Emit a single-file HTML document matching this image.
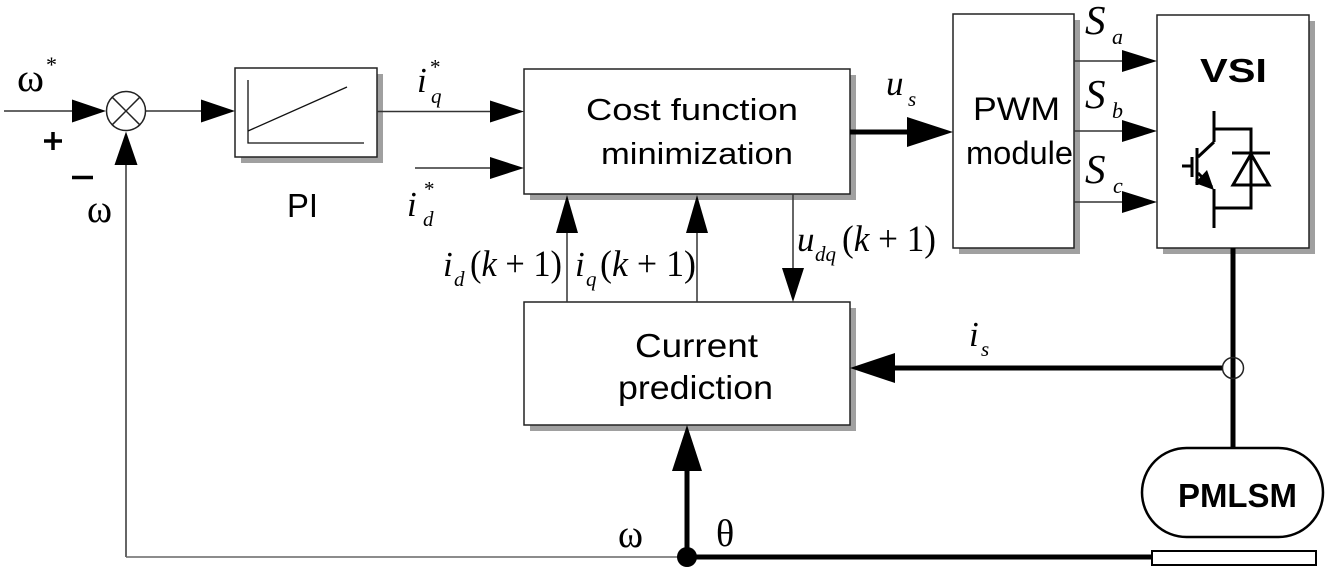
<!DOCTYPE html>
<html><head><meta charset="utf-8"><style>
html,body{margin:0;padding:0;background:#fff;}
svg{display:block;}
.sans{font-family:"Liberation Sans",Arial,sans-serif;fill:#000;}
.ser{font-family:"Liberation Serif","Times New Roman",serif;fill:#000;}
.it{font-style:italic;}
</style></head><body>
<svg width="1329" height="573" viewBox="0 0 1329 573" xmlns="http://www.w3.org/2000/svg">
<rect width="1329" height="573" fill="#fff"/>

<!-- shadows -->
<g fill="#a0a0a0">
<rect x="241" y="74" width="142" height="89"/>
<rect x="530" y="75" width="326" height="125"/>
<rect x="530" y="308" width="326" height="123"/>
<rect x="959" y="20" width="121" height="234"/>
<rect x="1163" y="21" width="152" height="233"/>
</g>
<!-- boxes -->
<g fill="#fff" stroke="#222" stroke-width="1.5">
<rect x="235" y="68" width="142" height="89"/>
<rect x="524" y="69" width="326" height="125"/>
<rect x="524" y="302" width="326" height="123"/>
<rect x="953" y="14" width="121" height="234"/>
<rect x="1157" y="15" width="152" height="233"/>
</g>

<!-- PI graph -->
<g stroke="#111" stroke-width="1.3" fill="none">
<polyline points="248,80 248,143 364,143"/>
<line x1="248" y1="131" x2="347" y2="87"/>
</g>

<!-- thin lines -->
<g stroke="#333" stroke-width="1.5" fill="none">
<line x1="4" y1="111" x2="74" y2="111"/>
<line x1="145.5" y1="111" x2="203" y2="111"/>
<line x1="377" y1="111.5" x2="492" y2="111.5"/>
<line x1="415" y1="168" x2="492" y2="168"/>
<line x1="126" y1="557" x2="126" y2="163"/>
<line x1="1074" y1="61" x2="1124" y2="61"/>
<line x1="1074" y1="131" x2="1124" y2="131"/>
<line x1="1074" y1="202" x2="1124" y2="202"/>
<line x1="567" y1="302" x2="567" y2="231"/>
<line x1="697" y1="302" x2="697" y2="231"/>
<line x1="793" y1="194" x2="793" y2="270"/>
</g>
<line x1="126" y1="557" x2="687" y2="557" stroke="#666" stroke-width="1.6"/>

<!-- summing junction -->
<g stroke="#222" stroke-width="1.5" fill="#fff">
<circle cx="126" cy="111" r="19.5"/>
<line x1="112.2" y1="97.2" x2="139.8" y2="124.8"/>
<line x1="139.8" y1="97.2" x2="112.2" y2="124.8"/>
</g>

<!-- thin arrowheads -->
<g fill="#000">
<polygon points="106,111 72,99.5 72,122.5"/>
<polygon points="235,111 201,99.5 201,122.5"/>
<polygon points="524,111.5 490,100.5 490,122.5"/>
<polygon points="524,168 490,157 490,179"/>
<polygon points="126,131.5 114.5,165 137.5,165"/>
<polygon points="1157,61 1122,50 1122,72"/>
<polygon points="1157,131 1122,120 1122,142"/>
<polygon points="1157,202 1122,191 1122,213"/>
<polygon points="567,195 556,233 578,233"/>
<polygon points="697,195 686,233 708,233"/>
<polygon points="793,302 782,268 804,268"/>
</g>

<!-- thick lines -->
<g stroke="#000" stroke-width="5" fill="none">
<line x1="850" y1="132" x2="910" y2="132"/>
<line x1="1233" y1="248" x2="1233" y2="448"/>
<line x1="1222.5" y1="368" x2="892" y2="368"/>
<line x1="687" y1="557" x2="1152" y2="557"/>
<line x1="687" y1="557" x2="687" y2="468"/>
</g>
<g fill="#000">
<polygon points="953,132 907,117 907,147"/>
<polygon points="850,368 895,353 895,383"/>
<polygon points="687,425 672,471 702,471"/>
<circle cx="687" cy="557" r="10"/>
</g>
<circle cx="1233" cy="368" r="10.5" fill="none" stroke="#222" stroke-width="1.5"/>

<!-- PMLSM and rail -->
<rect x="1142" y="448" width="181" height="89" rx="44.5" ry="44.5" fill="#fff" stroke="#000" stroke-width="2.5"/>
<rect x="1152" y="551" width="164" height="14" fill="#fff" stroke="#000" stroke-width="2"/>

<!-- IGBT + diode -->
<g stroke="#000" stroke-width="3" fill="none">
<line x1="1214" y1="111" x2="1214" y2="142"/>
<polyline points="1214,129 1251,129 1251,208 1214,208"/>
<line x1="1214" y1="189" x2="1214" y2="228"/>
<line x1="1214" y1="142" x2="1198" y2="157"/>
<line x1="1198" y1="173" x2="1212" y2="187"/>
<line x1="1197" y1="148" x2="1197" y2="185"/>
<line x1="1192" y1="157" x2="1192" y2="177"/>
<line x1="1182" y1="166" x2="1192" y2="166"/>
<line x1="1232" y1="153" x2="1270" y2="153"/>
<polygon points="1251,154 1233,185 1269,185"/>
</g>
<polygon points="1214,190 1195,183 1207,170" fill="#000"/>

<!-- plus / minus -->
<g stroke="#000" stroke-width="3.5">
<line x1="44" y1="141" x2="62" y2="141"/>
<line x1="53" y1="132" x2="53" y2="150"/>
<line x1="72" y1="177.5" x2="93" y2="177.5"/>
</g>

<!-- block texts -->
<text class="sans" x="586" y="120" font-size="31" textLength="212" lengthAdjust="spacingAndGlyphs">Cost function</text>
<text class="sans" x="601" y="164" font-size="31" textLength="192" lengthAdjust="spacingAndGlyphs">minimization</text>
<text class="sans" x="635" y="357" font-size="33" textLength="123" lengthAdjust="spacingAndGlyphs">Current</text>
<text class="sans" x="618" y="399" font-size="33" textLength="155" lengthAdjust="spacingAndGlyphs">prediction</text>
<text class="sans" x="973" y="120" font-size="32" textLength="87" lengthAdjust="spacingAndGlyphs">PWM</text>
<text class="sans" x="966" y="164" font-size="32" textLength="107" lengthAdjust="spacingAndGlyphs">module</text>
<text class="sans" x="1200" y="82" font-size="33" font-weight="bold" textLength="67" lengthAdjust="spacingAndGlyphs">VSI</text>
<text class="sans" x="287" y="217" font-size="33" textLength="31" lengthAdjust="spacingAndGlyphs">PI</text>
<text class="sans" x="1178" y="507" font-size="33" font-weight="bold" textLength="119" lengthAdjust="spacingAndGlyphs">PMLSM</text>

<!-- greek labels -->
<text class="ser" x="17" y="91" font-size="40" textLength="27" lengthAdjust="spacingAndGlyphs">ω</text>
<text class="ser" x="46" y="72" font-size="22">*</text>
<text class="ser" x="87" y="222" font-size="40" textLength="25" lengthAdjust="spacingAndGlyphs">ω</text>
<text class="ser" x="618" y="547" font-size="40" textLength="25" lengthAdjust="spacingAndGlyphs">ω</text>
<text class="ser" x="716" y="546" font-size="38">θ</text>

<!-- math labels -->
<text class="ser it" x="417" y="92" font-size="35">i</text>
<text class="ser it" x="431" y="103" font-size="21">q</text>
<text class="ser" x="430" y="74" font-size="21">*</text>

<text class="ser it" x="407" y="216" font-size="35">i</text>
<text class="ser it" x="423" y="226" font-size="21">d</text>
<text class="ser" x="424" y="196" font-size="21">*</text>

<text class="ser it" x="886" y="95" font-size="35">u</text>
<text class="ser it" x="908" y="106" font-size="21">s</text>

<text class="ser it" x="969" y="346" font-size="35">i</text>
<text class="ser it" x="981" y="356" font-size="21">s</text>

<text class="ser it" x="1085" y="34" font-size="41">S</text>
<text class="ser it" x="1112" y="44" font-size="22">a</text>
<text class="ser it" x="1085" y="108" font-size="41">S</text>
<text class="ser it" x="1112" y="118" font-size="22">b</text>
<text class="ser it" x="1085" y="183" font-size="41">S</text>
<text class="ser it" x="1113" y="193" font-size="22">c</text>

<text class="ser it" x="443" y="276" font-size="35">i</text>
<text class="ser it" x="454" y="286" font-size="21">d</text>
<text class="ser" x="470" y="276" font-size="37" textLength="92" lengthAdjust="spacingAndGlyphs">(<tspan font-style="italic">k</tspan> + 1)</text>

<text class="ser it" x="575" y="276" font-size="35">i</text>
<text class="ser it" x="586" y="286" font-size="21">q</text>
<text class="ser" x="600" y="276" font-size="37" textLength="96" lengthAdjust="spacingAndGlyphs">(<tspan font-style="italic">k</tspan> + 1)</text>

<text class="ser it" x="797" y="251" font-size="35">u</text>
<text class="ser it" x="815" y="261" font-size="21">dq</text>
<text class="ser" x="842" y="251" font-size="37" textLength="94" lengthAdjust="spacingAndGlyphs">(<tspan font-style="italic">k</tspan> + 1)</text>
</svg>
</body></html>
